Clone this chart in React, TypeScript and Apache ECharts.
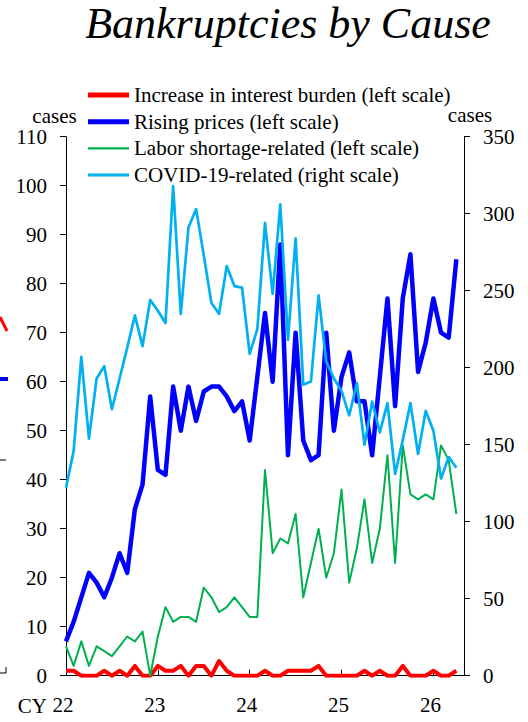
import React, { useEffect, useRef } from 'react';
import * as echarts from 'echarts';

// Monthly categories: Jan 2022 .. May 2026 (axis runs one month past the last point)
const months: string[] = [];
for (let y = 2022; y <= 2026; y++) {
  for (let m = 1; m <= 12; m++) {
    if (y === 2026 && m > 5) break;
    months.push(`${y}-${String(m).padStart(2, '0')}`);
  }
}

const seriesNames = [
  'Increase in interest burden (left scale)',
  'Rising prices (left scale)',
  'Labor shortage-related (left scale)',
  'COVID-19-related (right scale)',
];

const interestBurden = [
  1, 1, 0, 0, 0, 1, 0, 1, 0, 2, 0, 0,
  2, 1, 1, 2, 0, 2, 2, 0, 3, 1, 0, 0,
  0, 0, 1, 0, 0, 1, 1, 1, 1, 2, 0, 0,
  0, 0, 0, 1, 0, 1, 0, 0, 2, 0, 0, 0,
  1, 0, 0, 1,
];

const risingPrices = [
  7, 11, 16, 21, 19, 16, 20, 25, 21, 34, 39, 57,
  42, 41, 59, 50, 59, 52, 58, 59, 59, 57, 54, 56,
  48, 61, 74, 60, 88, 45, 70, 48, 44, 45, 70, 50,
  61, 66, 56, 56, 45, 61, 77, 55, 77, 86, 62, 68,
  77, 70, 69, 85,
];

const laborShortage = [
  6, 2, 7, 2, 6, 5, 4, 6, 8, 7, 9, 0,
  8, 14, 11, 12, 12, 11, 18, 16, 13, 14, 16, 14,
  12, 12, 42, 25, 28, 27, 33, 16, 23, 30, 20, 25,
  38, 19, 26, 36, 23, 30, 45, 23, 47, 37, 36, 37,
  36, 47, 44, 33,
];

const covid = [
  122, 146, 207, 154, 193, 201, 173, 193, 213, 234, 214, 244,
  237, 229, 318, 235, 291, 303, 273, 242, 235, 266, 253, 252,
  209, 225, 294, 248, 306, 218, 284, 189, 191, 247, 204, 193,
  185, 169, 190, 150, 178, 158, 177, 131, 153, 177, 144, 172,
  159, 128, 142, 135,
];

const FONT = 'Liberation Serif, Times New Roman, serif';

export default function App() {
  const ref = useRef<HTMLDivElement>(null);

  useEffect(() => {
    if (!ref.current) return;
    const chart = echarts.init(ref.current, undefined, { renderer: 'svg' });

    const axisLine = { show: true, lineStyle: { color: '#000', width: 1 } };
    const yLabel = { fontSize: 21, color: '#000', fontFamily: FONT, margin: 19 };

    chart.setOption({
      animation: false,
      backgroundColor: '#fff',
      textStyle: { fontFamily: FONT, color: '#000' },
      grid: {
        left: 66,
        right: 64,
        top: 136.7,
        bottom: 46.3,
        containLabel: false,
        outerBoundsMode: 'none',
      },
      legend: {
        orient: 'vertical',
        left: 88,
        top: 84.5,
        padding: 0,
        itemWidth: 41,
        itemHeight: 14,
        itemGap: 5.7,
        selectedMode: false,
        textStyle: { fontSize: 21, color: '#000', fontFamily: FONT, lineHeight: 21 },
        data: [
          { name: seriesNames[0], icon: 'path://M0,0H41V5H0Z' },
          { name: seriesNames[1], icon: 'path://M0,0H41V5H0Z' },
          { name: seriesNames[2], icon: 'path://M0,0H41V2.4H0Z' },
          { name: seriesNames[3], icon: 'path://M0,0H41V3H0Z' },
        ],
      },
      xAxis: {
        type: 'category',
        data: months,
        boundaryGap: false,
        axisLine,
        axisTick: {
          show: true,
          inside: true,
          length: 6,
          lineStyle: { color: '#000' },
          interval: (index: number) => index % 12 === 0,
        },
        axisLabel: {
          fontSize: 21,
          color: '#000',
          fontFamily: FONT,
          margin: 19,
          padding: [0, 6, 0, 0],
          interval: (index: number) => index % 12 === 0,
          formatter: (v: string) => v.slice(2, 4),
        },
        splitLine: { show: false },
      },
      yAxis: [
        {
          type: 'value',
          min: 0,
          max: 110,
          interval: 10,
          axisLine,
          axisTick: { show: true, inside: false, length: 6, lineStyle: { color: '#000' } },
          axisLabel: yLabel,
          splitLine: { show: false },
        },
        {
          type: 'value',
          min: 0,
          max: 350,
          interval: 50,
          position: 'right',
          axisLine,
          axisTick: { show: true, inside: false, length: 6, lineStyle: { color: '#000' } },
          axisLabel: yLabel,
          splitLine: { show: false },
        },
      ],
      series: [
        {
          name: seriesNames[0],
          type: 'line',
          yAxisIndex: 0,
          data: interestBurden,
          symbol: 'none',
          color: '#FF0000',
          lineStyle: { color: '#FF0000', width: 4, join: 'round' },
          z: 2,
        },
        {
          name: seriesNames[1],
          type: 'line',
          yAxisIndex: 0,
          data: risingPrices,
          symbol: 'none',
          color: '#0000FF',
          lineStyle: { color: '#0000FF', width: 4.5, join: 'round' },
          z: 3,
        },
        {
          name: seriesNames[2],
          type: 'line',
          yAxisIndex: 0,
          data: laborShortage,
          symbol: 'none',
          color: '#00B050',
          lineStyle: { color: '#00B050', width: 2, join: 'round' },
          z: 4,
        },
        {
          name: seriesNames[3],
          type: 'line',
          yAxisIndex: 1,
          data: covid,
          symbol: 'none',
          color: '#00B0F0',
          lineStyle: { color: '#00B0F0', width: 2.7, join: 'round' },
          z: 5,
        },
      ],
      graphic: [
        {
          type: 'text',
          x: 288,
          y: 23,
          style: {
            text: 'Bankruptcies by Cause',
            font: `italic 44px ${FONT}`,
            fill: '#000',
            textAlign: 'center',
            textVerticalAlign: 'middle',
          },
        },
        {
          type: 'text',
          x: 54.5,
          y: 115.5,
          style: {
            text: 'cases',
            font: `21px ${FONT}`,
            fill: '#000',
            textAlign: 'center',
            textVerticalAlign: 'middle',
          },
        },
        {
          type: 'text',
          x: 470,
          y: 115,
          style: {
            text: 'cases',
            font: `21px ${FONT}`,
            fill: '#000',
            textAlign: 'center',
            textVerticalAlign: 'middle',
          },
        },
        {
          type: 'text',
          x: 47,
          y: 705.5,
          style: {
            text: 'CY',
            font: `21px ${FONT}`,
            fill: '#000',
            textAlign: 'right',
            textVerticalAlign: 'middle',
          },
        },
        // fragments of the neighbouring chart at the left edge
        {
          type: 'line',
          shape: { x1: 0, y1: 317, x2: 7, y2: 331 },
          style: { stroke: '#FF0000', lineWidth: 3 },
        },
        {
          type: 'line',
          shape: { x1: 0, y1: 379, x2: 8, y2: 379 },
          style: { stroke: '#0000FF', lineWidth: 4 },
        },
        {
          type: 'line',
          shape: { x1: 0, y1: 460, x2: 6, y2: 460 },
          style: { stroke: '#000', lineWidth: 1 },
        },
        {
          type: 'polyline',
          shape: { points: [[0, 673], [6, 673], [6, 667]] },
          style: { stroke: '#000', lineWidth: 1, fill: 'none' },
        },
      ],
    });

    return () => chart.dispose();
  }, []);

  return (
    <div
      ref={ref}
      style={{ position: 'fixed', left: 0, top: 0, width: 528, height: 722, background: '#fff' }}
    />
  );
}
